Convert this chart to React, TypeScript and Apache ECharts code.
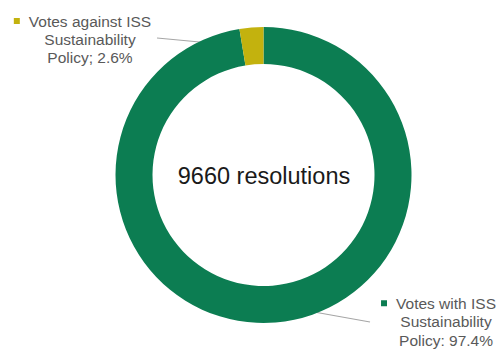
import React, { useEffect, useRef } from "react";
import * as echarts from "echarts";

const categories = ["Votes with ISS Sustainability Policy", "Votes against ISS Sustainability Policy"];
const values = [97.4, 2.6];
const labelLines = [
  ["Votes with ISS", "Sustainability", "Policy: "],
  ["Votes against ISS", "Sustainability", "Policy; "],
];
const colors = ["#0c7d52", "#c3b20e"];
const totalResolutions = 9660;
const centerSuffix = " resolutions";

const FONT = "'Liberation Sans', Arial, sans-serif";

export default function App() {
  const ref = useRef<HTMLDivElement>(null);
  useEffect(() => {
    if (!ref.current) return;
    const chart = echarts.init(ref.current, undefined, { renderer: "svg" });
    const lineHeights = [18.5, 18];
    const labelPos = [
      { x: 446, y: 294 },
      { x: 90, y: 12 },
    ];
    const linePts = [
      [[275, 305], [275, 305], [370, 322]],
      [[253, 47], [253, 47], [157, 38]],
    ];
    chart.setOption({
      animation: false,
      backgroundColor: "#ffffff",
      graphic: [
        {
          type: "text",
          x: 264,
          y: 176,
          style: {
            text: `${totalResolutions}${centerSuffix}`,
            fontSize: 23.5,
            fontFamily: FONT,
            fill: "#1a1a1a",
            align: "center",
            verticalAlign: "middle",
            textAlign: "center",
            textVerticalAlign: "middle",
          },
        },
      ],
      series: [
        {
          type: "pie",
          center: [263.5, 175],
          radius: [111, 148],
          startAngle: 90,
          clockwise: true,
          avoidLabelOverlap: false,
          emphasis: { disabled: true },
          data: categories.map((name, i) => ({
            name,
            value: values[i],
            itemStyle: { color: colors[i] },
            label: {
              show: true,
              position: "outside",
              color: "#595959",
              fontSize: 15.5,
              fontFamily: FONT,
              lineHeight: lineHeights[i],
              align: "center",
              formatter: () =>
                `{m|}{g|}${labelLines[i][0]}{p|}\n${labelLines[i][1]}\n${labelLines[i][2]}${values[i]}%`,
              rich: {
                m: { width: 6, height: 6, backgroundColor: colors[i], lineHeight: lineHeights[i] },
                g: { width: 9, lineHeight: lineHeights[i] },
                p: { width: 15, lineHeight: lineHeights[i] },
              },
            },
            labelLine: {
              show: true,
              lineStyle: { color: "#a6a6a6", width: 1.2 },
            },
          })),
          labelLayout: (params: any) => ({
            x: labelPos[params.dataIndex].x,
            y: labelPos[params.dataIndex].y,
            align: "center",
            verticalAlign: "top",
            labelLinePoints: linePts[params.dataIndex],
          }),
        },
      ],
    });
    return () => chart.dispose();
  }, []);
  return (
    <div
      ref={ref}
      style={{ position: "fixed", left: 0, top: 0, width: 501, height: 349 }}
    />
  );
}
